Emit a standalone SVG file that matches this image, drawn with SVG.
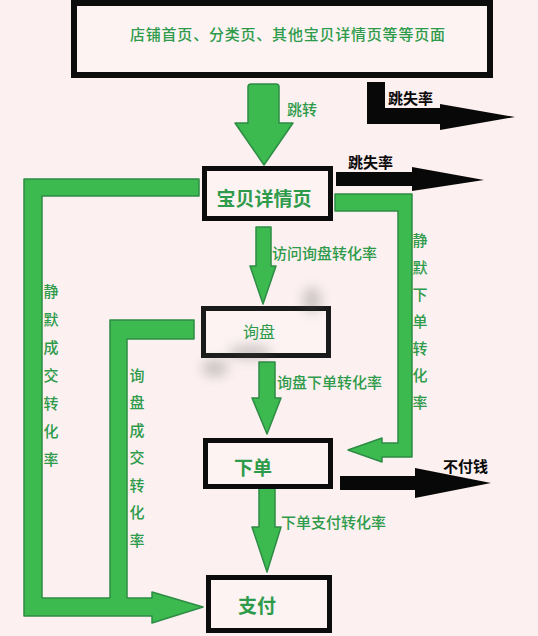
<svg xmlns="http://www.w3.org/2000/svg" width="538" height="636" viewBox="0 0 538 636">
<defs>
<style>
.box{fill:#fdf3f3;stroke:#0c0c0c;}
.g{fill:#3cba4f;stroke:#2d8c45;stroke-width:1.5;stroke-linejoin:round;}
.k{fill:#080808;stroke:none;}
.t{font-family:"Noto Sans CJK SC","Noto Sans",sans-serif;fill:#2e9b4a;dominant-baseline:central;}
.tn{font-size:19px;font-weight:bold;text-anchor:middle;}
.tl{font-size:15px;font-weight:500;}
.tv{font-size:15px;font-weight:500;text-anchor:middle;}
.tk{font-family:"Noto Sans CJK SC","Noto Sans",sans-serif;fill:#0a0a0a;font-size:15px;font-weight:bold;dominant-baseline:central;}
</style>
<filter id="blur" x="-50%" y="-50%" width="200%" height="200%"><feGaussianBlur stdDeviation="6"/></filter>
</defs>
<rect width="538" height="636" fill="#fcf0f0"/>

<g id="connectors">
<path class="g" d="M251,84 H276 Q279,84 279,87 V123 H293 L264,165 L235,123 H248 V87 Q248,84 251,84 Z"/>
<polygon class="g" points="256,227 271,227 271,266 276,266 263,304 250,266 256,266"/>
<polygon class="g" points="259,362 275,362 275,398 281,398 267,434 252,398 259,398"/>
<polygon class="g" points="259,488 275,488 275,527 281,527 267,572 252,527 259,527"/>
<polygon class="g" points="24,179 199,179 199,196 42,196 42,598 110,598 110,320 194,320 194,339 127,339 127,598 152,598 152,592 203,607 152,623 152,616 24,616"/>
<polygon class="g" points="335,194 412,194 412,457 382,457 382,462 348,450 382,438 382,443 398,443 398,211 335,211"/>
<polygon class="k" points="367,82 385,82 385,108 440,108 440,104 515,117 440,130 440,124 367,124"/>
<polygon class="k" points="336,172 412,172 412,167 484,180 412,191 412,186 336,186"/>
<polygon class="k" points="340,476 415,476 415,468 491,483 415,498 415,490 340,490"/>
<text class="t tl" x="287" y="108">跳转</text>
<text class="t tl" x="272" y="252">访问询盘转化率</text>
<text class="t tl" x="277" y="381">询盘下单转化率</text>
<text class="t tl" x="281" y="521">下单支付转化率</text>
<text class="tk" x="388" y="97">跳失率</text>
<text class="tk" x="348" y="161">跳失率</text>
<text class="tk" x="443" y="465">不付钱</text>
<g class="t tv">
<text x="51" y="290">静</text><text x="51" y="318">默</text><text x="51" y="346">成</text><text x="51" y="374">交</text><text x="51" y="402">转</text><text x="51" y="430">化</text><text x="51" y="458">率</text>
<text x="137" y="374">询</text><text x="137" y="401">盘</text><text x="137" y="429">成</text><text x="137" y="456">交</text><text x="137" y="484">转</text><text x="137" y="511">化</text><text x="137" y="539">率</text>
<text x="420" y="239">静</text><text x="420" y="266">默</text><text x="420" y="293">下</text><text x="420" y="320">单</text><text x="420" y="347">转</text><text x="420" y="374">化</text><text x="420" y="401">率</text>
</g>
</g>

<g id="node-top">
<rect class="box" x="74" y="3" width="416" height="72" stroke-width="6"/>
<text class="t" x="130" y="33" font-size="15" font-weight="500" textLength="315" lengthAdjust="spacing">店铺首页、分类页、其他宝贝详情页等等页面</text>
</g>
<g id="node-detail">
<rect class="box" x="204.5" y="168.5" width="126" height="50" stroke-width="5"/>
<text class="t tn" x="264" y="197">宝贝详情页</text>
</g>
<g id="node-inquiry">
<rect class="box" x="203.5" y="308.5" width="125" height="47" stroke-width="5" style="stroke:#1a1a1a"/>
<text class="t" x="259" y="331" font-size="16" text-anchor="middle">询盘</text>
</g>
<g id="node-order">
<rect class="box" x="205.5" y="440.5" width="125" height="46" stroke-width="5"/>
<text class="t tn" x="253" y="466">下单</text>
</g>
<g id="node-pay">
<rect class="box" x="208.5" y="577.5" width="121" height="53" stroke-width="5"/>
<text class="t tn" x="257" y="604">支付</text>
</g>
<g id="smudge" filter="url(#blur)" opacity="0.28" fill="#555">
<ellipse cx="312" cy="300" rx="9" ry="13"/>
<ellipse cx="250" cy="352" rx="22" ry="7"/>
<ellipse cx="215" cy="368" rx="13" ry="9"/>
</g>
</svg>
